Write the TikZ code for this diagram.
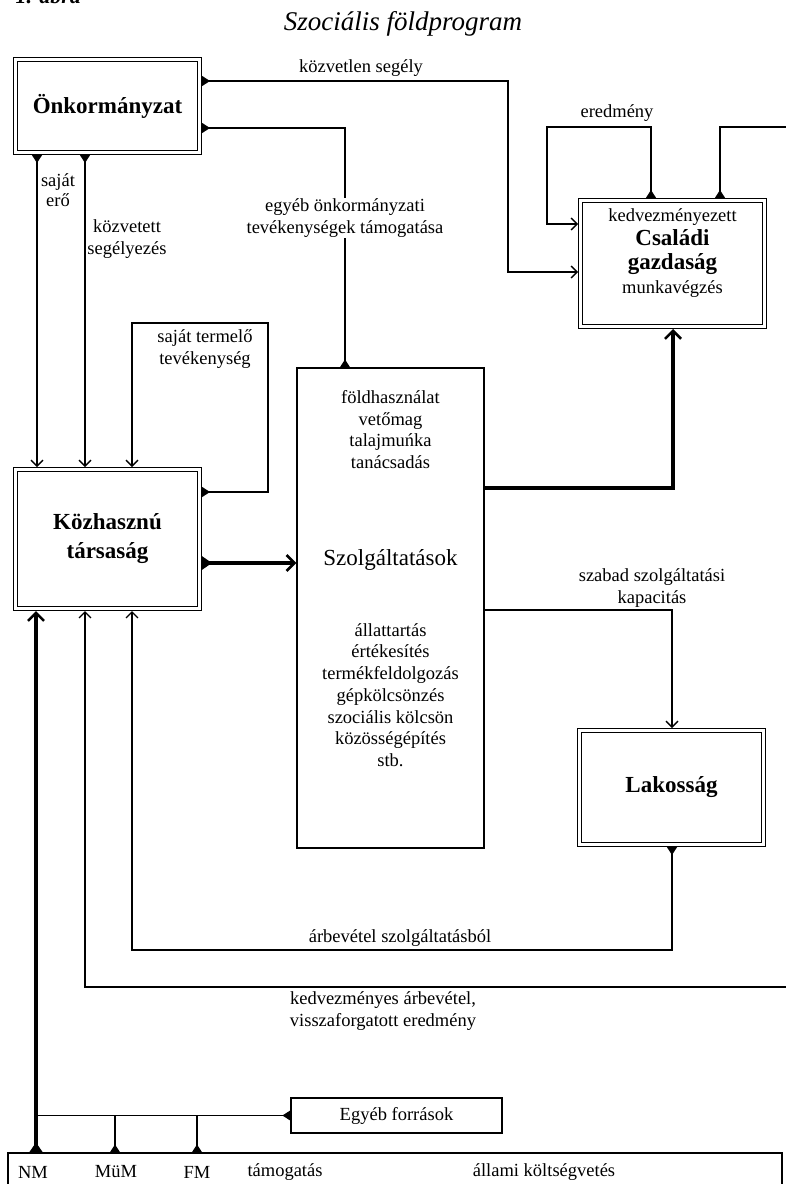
\documentclass[tikz,border=0pt]{standalone}
\usepackage{fontspec}
\setmainfont{Liberation Serif}
\usetikzlibrary{arrows.meta}

\begin{document}
\begin{tikzpicture}[x=1pt,y=-1pt]

\useasboundingbox (0,0) rectangle (786,1184);

\tikzset{dbox/.style = {draw, double, double distance=2.6pt, line width=1.3pt,
                        inner sep=0pt, outer sep=2.6pt},
         sbox/.style = {draw, line width=1.2pt, inner sep=0pt},
         lbl/.style  = {font=\fontsize{18.5}{21.7}\selectfont, align=center, inner sep=1pt},
         blbl/.style = {font=\fontsize{23}{29}\selectfont\bfseries, align=center, inner sep=0pt},
         fin/.tip    = {Triangle[reversed, length=8pt, width=10pt]},
         bigfin/.tip = {Triangle[reversed, length=10pt, width=13pt]},
         barb/.tip   = {Straight Barb[length=6pt, width=12pt, line width=1.3pt]},
         bigbarb/.tip= {Straight Barb[length=8pt, width=16pt, line width=2.6pt]},
         flow/.style = {line width=1.2pt},
         heavy/.style= {line width=3.8pt}}

\node[font=\fontsize{22}{24}\selectfont\bfseries\itshape, anchor=base west] (abra) at (12,3) {1. ábra};
\node[font=\fontsize{27}{30}\selectfont\itshape] (title) at (403,24) {Szociális földprogram};

\node[dbox, minimum width=183.8pt, minimum height=92.8pt] (onk) at (107.5,106) {};
\node[dbox, minimum width=183.8pt, minimum height=138.8pt] (kozh) at (107.5,539) {};
\node[dbox, minimum width=183.8pt, minimum height=125.8pt] (csal) at (672.5,263.5) {};
\node[dbox, minimum width=183.8pt, minimum height=113.8pt] (lak) at (671.5,787.5) {};
\node[sbox, minimum width=187pt, minimum height=480pt] (szolg) at (390.5,608) {};
\node[sbox, minimum width=211pt, minimum height=35pt] (egyeb) at (396.5,1115.5) {};
\node[sbox, minimum width=774pt, minimum height=44pt] (budget) at (395,1175) {};

\node[blbl] (onktxt) at (onk) {Önkormányzat};
\node[blbl] (kozhtxt) at (kozh) {Közhasznú\\társaság};
\node[blbl, font=\fontsize{23}{24}\selectfont\bfseries] (csaltxt) at (672.5,252) {Családi\\gazdaság};
\node[lbl] (kedv) at (672.5,217) {kedvezményezett};
\node[lbl] (munka) at (672.5,289) {munkavégzés};
\node[blbl] (laktxt) at (lak) {Lakosság};
\node[lbl] (szolgtop) at (390.5,429.5) {földhasználat\\vetőmag\\talajmuńka\\tanácsadás};
\node[font=\fontsize{23}{27}\selectfont] (szolgtxt) at (390.5,560) {Szolgáltatások};
\node[lbl] (szolgbot) at (390.5,695) {állattartás\\értékesítés\\termékfeldolgozás\\gépkölcsönzés\\szociális kölcsön\\közösségépítés\\stb.};
\node[lbl] (egyebtxt) at (egyeb) {Egyéb források};
\node[lbl] (nm) at (33,1172) {NM};
\node[lbl] (mum) at (116,1172) {MüM};
\node[lbl] (fm) at (197,1172) {FM};
\node[lbl] (tam) at (285,1172) {támogatás};
\node[lbl] (allami) at (544,1172) {állami költségvetés};

\draw[flow, fin-barb] (onk.east |- 0,81) -| (508,272) -- (csal.west |- 0,272);
\draw[flow, fin-fin] (onk.east |- 0,128) -| (szolg.north -| 345,0);
\draw[flow, fin-barb] (onk.south -| 37,0) -- (kozh.north -| 37,0);
\draw[flow, fin-barb] (onk.south -| 85,0) -- (kozh.north -| 85,0);
\draw[flow, fin-barb] (kozh.east |- 0,492) -| (268,323) -| (kozh.north -| 132,0);
\draw[heavy, bigfin-bigbarb] (kozh.east |- 0,563) -- (szolg.west |- 0,563);
\draw[heavy, -bigbarb] (szolg.east |- 0,488) -| (csal.south -| 673,0);
\draw[flow, fin-barb] (csal.north -| 651,0) |- (547,127) |- (csal.west |- 0,224);
\draw[flow, fin-] (csal.north -| 720,0) |- (800,127);
\draw[flow, -barb] (szolg.east |- 0,610) -| (lak.north -| 672,0);
\draw[flow, fin-barb] (lak.south -| 672,0) |- (132,950) -- (kozh.south -| 132,0);
\draw[flow, -barb] (800,987) -| (kozh.south -| 85,0);
\draw[heavy, bigfin-bigbarb] (budget.north -| 36,0) -- (kozh.south -| 36,0);
\draw[flow, fin-] (egyeb.west) -- (egyeb.west -| 36,0);
\draw[flow, fin-] (budget.north -| 115,0) -- (egyeb.west -| 115,0);
\draw[flow, fin-] (budget.north -| 197,0) -- (egyeb.west -| 197,0);

\node[lbl, anchor=south] (kozvetlen) at (361,78) {közvetlen segély};
\node[lbl, fill=white] (egyebl) at (345,218) {egyéb önkormányzati\\tevékenységek támogatása};
\node[lbl, font=\fontsize{18.5}{20}\selectfont] (sajatero) at (58,190) {saját\\erő};
\node[lbl] (kozvetett) at (127,239) {közvetett\\segélyezés};
\node[lbl] (termelo) at (205,349) {saját termelő\\tevékenység};
\node[lbl] (eredmeny) at (617,113) {eredmény};
\node[lbl] (szabad) at (652,588) {szabad szolgáltatási\\kapacitás};
\node[lbl, anchor=south] (arbevetel) at (400,948) {árbevétel szolgáltatásból};
\node[lbl] (kedvarb) at (383,1011) {kedvezményes árbevétel,\\visszaforgatott eredmény};

\end{tikzpicture}
\end{document}
